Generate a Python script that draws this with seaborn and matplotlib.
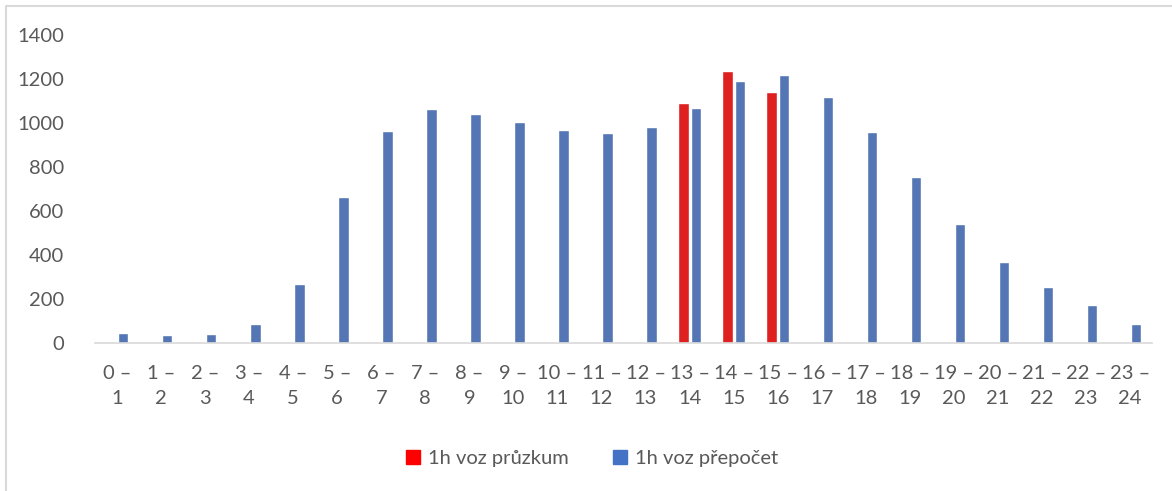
import numpy as np
import pandas as pd
import matplotlib
matplotlib.use("Agg")
import matplotlib.pyplot as plt
import seaborn as sns
from matplotlib.patches import Patch
from matplotlib.lines import Line2D

# hodinové intervaly
hours = [f"{h} –\n{h + 1}" for h in range(24)]
# 1h voz přepočet (modrá)
prepocet = [47, 39, 44, 88, 271, 664, 962, 1064, 1041, 1003, 970, 953,
            980, 1067, 1189, 1217, 1120, 959, 756, 539, 368, 256, 174, 89]
# 1h voz průzkum (červená) - jen 13-16
pruzkum = [np.nan] * 13 + [1092, 1238, 1142] + [np.nan] * 8

s_red = "1h voz průzkum"
s_blue = "1h voz přepočet"

df = pd.concat([
    pd.DataFrame({"hod": hours, "val": pruzkum, "serie": s_red}),
    pd.DataFrame({"hod": hours, "val": prepocet, "serie": s_blue}),
]).dropna()

sns.set_style("white")
plt.rcParams["font.family"] = ["Lato", "DejaVu Sans"]

fig = plt.figure(figsize=(11.72, 4.91), dpi=100)
ax = fig.add_axes([0.081, 0.301, 0.902, 0.628])

colors = {s_red: "#FF0000", s_blue: "#4472C4"}
sns.barplot(data=df, x="hod", y="val", hue="serie", order=hours,
            hue_order=[s_red, s_blue], palette=colors, width=0.56, gap=0.15,
            errorbar=None, ax=ax, legend=False)

ax.set_ylim(0, 1400)
ax.set_yticks(range(0, 1401, 200))
ax.set_xlim(-0.5, 23.5)
ax.set_xlabel("")
ax.set_ylabel("")
for s in ["top", "right", "left"]:
    ax.spines[s].set_visible(False)
ax.spines["bottom"].set_color("#D9D9D9")
ax.spines["bottom"].set_linewidth(1.2)
ax.tick_params(axis="both", length=0, labelsize=14.5, colors="#595959")
ax.tick_params(axis="y", pad=22)
ax.tick_params(axis="x", pad=16)
for t in ax.get_xticklabels():
    t.set_linespacing(1.55)

handles = [Patch(color=colors[s_red], label=s_red),
           Patch(color=colors[s_blue], label=s_blue)]
fig.legend(handles=handles, loc="center", bbox_to_anchor=(0.505, 0.067),
           ncol=2, frameon=False, fontsize=14.5, labelcolor="#595959",
           handlelength=0.7, handleheight=0.7, handletextpad=0.4,
           columnspacing=2.2)

# rámeček grafu
fig.add_artist(Line2D([6 / 1172, 6 / 1172, 1.0], [0.0, 1 - 6 / 491, 1 - 6 / 491],
                      transform=fig.transFigure, color="#D9D9D9", lw=1.5))

fig.savefig("out.png", dpi=100)
